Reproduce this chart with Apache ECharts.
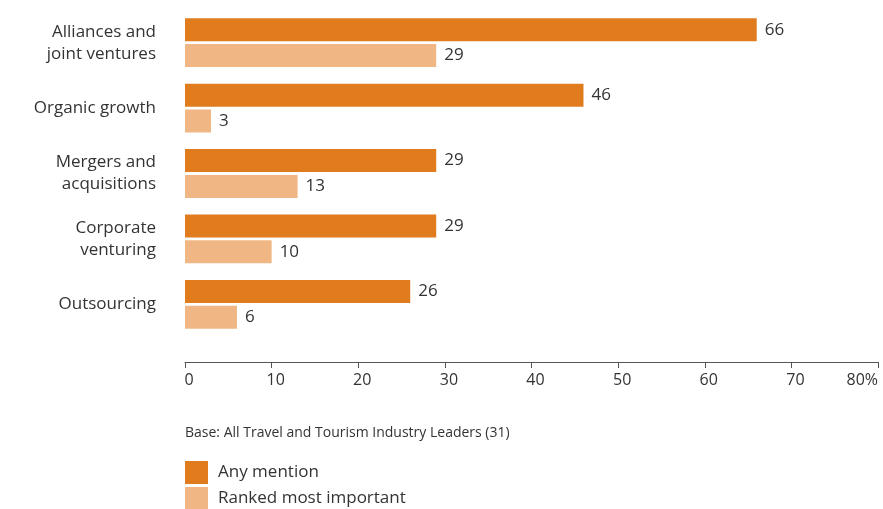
<!DOCTYPE html>
<html>
<head>
<meta charset="utf-8">
<script src="https://cdn.jsdelivr.net/npm/echarts@6/dist/echarts.min.js"></script>
<style>
  html, body { margin: 0; padding: 0; background: #ffffff; }
  #chart { width: 883px; height: 509px; }
</style>
</head>
<body>
<div id="chart"></div>
<script>
// Growth routes named by travel and tourism leaders (% of respondents)
const categories = [
  'Alliances and\njoint ventures',
  'Organic growth',
  'Mergers and\nacquisitions',
  'Corporate\nventuring',
  'Outsourcing'
];
const anyMention = [66, 46, 29, 29, 26];
const rankedMostImportant = [29, 3, 13, 10, 6];
const seriesNames = ['Any mention', 'Ranked most important'];
const xTicks = [0, 10, 20, 30, 40, 50, 60, 70, 80];
const baseNote = 'Base: All Travel and Tourism Industry Leaders (31)';

const DARK = '#E07B1E';
const LIGHT = '#F0B784';
const FONT = '"Open Sans", "Noto Sans", sans-serif';
const TEXT = '#333333';

const chart = echarts.init(document.getElementById('chart'), null, { renderer: 'canvas' });

const valueLabel = {
  show: true,
  position: 'right',
  distance: 8,
  color: TEXT,
  fontSize: 17,
  fontFamily: FONT
};

chart.setOption({
  animation: false,
  textStyle: { fontFamily: FONT },
  grid: { left: 185, right: 5, top: 10, bottom: 172, containLabel: false, outerBoundsMode: 'none' },
  xAxis: {
    type: 'value',
    min: xTicks[0],
    max: xTicks[xTicks.length - 1],
    interval: 10,
    offset: 25,
    splitLine: { show: false },
    axisLine: { show: true, lineStyle: { color: '#555', width: 1 } },
    axisTick: { show: true, length: 6, lineStyle: { color: '#555' } },
    axisLabel: {
      color: TEXT,
      fontSize: 16,
      fontFamily: FONT,
      margin: 10,
      padding: [0, 0, 0, 8],
      hideOverlap: false,
      alignMaxLabel: 'right',
      formatter: v => v === xTicks[xTicks.length - 1] ? v + '%' : String(v)
    }
  },
  yAxis: {
    type: 'category',
    data: categories,
    inverse: true,
    axisLine: { show: false },
    axisTick: { show: false },
    axisLabel: {
      color: TEXT,
      fontSize: 17,
      fontFamily: FONT,
      margin: 29,
      align: 'right',
      lineHeight: 22
    }
  },
  legend: {
    orient: 'vertical',
    left: 185,
    top: 461,
    height: 80,
    padding: 0,
    itemWidth: 23,
    itemHeight: 23,
    itemGap: 3,
    icon: 'rect',
    textStyle: { color: TEXT, fontSize: 17, fontFamily: FONT, padding: [3, 0, 0, 5] },
    data: seriesNames
  },
  graphic: [{
    type: 'text',
    left: 185,
    top: 426,
    style: { text: baseNote, fill: TEXT, fontSize: 14, fontFamily: FONT }
  }],
  series: [
    {
      name: seriesNames[0],
      type: 'bar',
      data: anyMention,
      barWidth: 23,
      barGap: '12%',
      itemStyle: { color: DARK },
      label: valueLabel
    },
    {
      name: seriesNames[1],
      type: 'bar',
      data: rankedMostImportant,
      barWidth: 23,
      itemStyle: { color: LIGHT },
      label: valueLabel
    }
  ]
});
</script>
</body>
</html>
